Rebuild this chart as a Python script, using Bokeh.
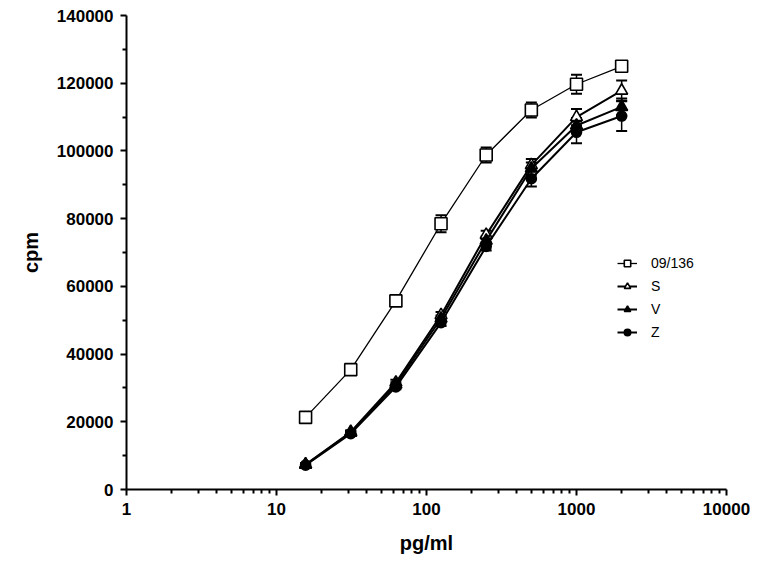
from bokeh.plotting import figure
from bokeh.models import (Range1d, ColumnDataSource, Whisker, TeeHead, Legend,
                          LegendItem, FixedTicker, NumeralTickFormatter)
from bokeh.embed import file_html
from bokeh.resources import INLINE

# ---- data ----
dose = [15.625, 31.25, 62.5, 125, 250, 500, 1000, 2000]
series_names = ["09/136", "S", "V", "Z"]
cpm_09136 = [21300, 35400, 55700, 78500, 98800, 112100, 119700, 125000]
err_09136 = [500, 700, 800, 2500, 2200, 2200, 2800, 800]
cpm_S = [7400, 17000, 31600, 51500, 75200, 95800, 110000, 117800]
err_S = [400, 500, 800, 900, 1200, 1800, 2400, 3000]
cpm_V = [7300, 16800, 31000, 50500, 73500, 94800, 107500, 113000]
err_V = [400, 500, 700, 900, 1200, 1800, 2200, 2500]
cpm_Z = [7200, 16500, 30300, 49300, 71800, 91800, 105500, 110300]
err_Z = [300, 500, 700, 1000, 1200, 2300, 3200, 4400]

x_ticks = [1, 10, 100, 1000, 10000]
x_minor = [m * d for d in [1, 10, 100, 1000] for m in range(2, 10)]
y_ticks = [0, 20000, 40000, 60000, 80000, 100000, 120000, 140000]
y_minor = [10000, 30000, 50000, 70000, 90000, 110000, 130000]

FONT = "Liberation Sans"

p = figure(width=750, height=557, output_backend="svg", toolbar_location=None,
           x_axis_type="log", x_range=Range1d(1, 10000), y_range=Range1d(0, 140000),
           min_border_left=126, min_border_right=24, min_border_top=15, min_border_bottom=68)
p.outline_line_color = None
p.xgrid.visible = False
p.ygrid.visible = False
p.background_fill_color = "white"
p.border_fill_color = "white"

p.xaxis.ticker = FixedTicker(ticks=x_ticks, minor_ticks=x_minor)
p.yaxis.ticker = FixedTicker(ticks=y_ticks, minor_ticks=y_minor)
p.xaxis.formatter = NumeralTickFormatter(format="0")
p.yaxis.formatter = NumeralTickFormatter(format="0")

for ax in (p.xaxis[0], p.yaxis[0]):
    ax.axis_line_width = 2
    ax.axis_line_color = "black"
    ax.major_tick_line_width = 2
    ax.minor_tick_line_width = 2
    ax.major_tick_line_color = "black"
    ax.minor_tick_line_color = "black"
    ax.major_tick_in = 0
    ax.minor_tick_in = 0
    ax.major_tick_out = 6
    ax.minor_tick_out = 4
    ax.major_label_text_font = FONT
    ax.major_label_text_font_style = "bold"
    ax.major_label_text_font_size = "17px"
    ax.major_label_text_color = "black"
    ax.major_label_standoff = 7
    ax.axis_label_text_font = FONT
    ax.axis_label_text_font_style = "bold"
    ax.axis_label_text_font_size = "20px"
    ax.axis_label_text_color = "black"

p.xaxis.axis_label = "pg/ml"
p.yaxis.axis_label = "cpm"
p.xaxis.axis_label_standoff = 14
p.yaxis.axis_label_standoff = 12

styles = [
    (cpm_09136, err_09136, "square", 12, "white", 1.3),
    (cpm_S, err_S, "triangle", 12, "white", 2),
    (cpm_V, err_V, "triangle", 12, "black", 2),
    (cpm_Z, err_Z, "circle", 10, "black", 2),
]

items = []
for name, (vals, errs, marker, size, fill, lw) in zip(series_names, styles):
    src = ColumnDataSource(dict(x=dose, y=vals,
                                lo=[v - e for v, e in zip(vals, errs)],
                                hi=[v + e for v, e in zip(vals, errs)]))
    w = Whisker(source=src, base="x", lower="lo", upper="hi",
                line_color="black", line_width=1.5,
                upper_head=TeeHead(size=11, line_width=2, line_color="black"),
                lower_head=TeeHead(size=11, line_width=2, line_color="black"))
    p.add_layout(w)
    ln = p.line("x", "y", source=src, line_color="black", line_width=lw)
    mk = p.scatter("x", "y", source=src, marker=marker, size=size,
                   fill_color=fill, line_color="black", line_width=1.6)
    items.append(LegendItem(label=name, renderers=[ln, mk]))

legend = Legend(items=items, location=(491, 149), orientation="vertical",
                glyph_width=20, glyph_height=16, spacing=7, padding=0, margin=0,
                label_standoff=14, label_text_font=FONT,
                label_text_font_size="14px", label_text_color="black",
                border_line_color=None, background_fill_alpha=0)
p.add_layout(legend)

open("out.html", "w").write(file_html(p, INLINE))
